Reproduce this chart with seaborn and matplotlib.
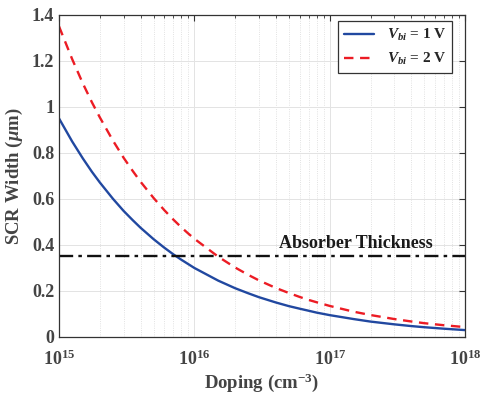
import numpy as np
import pandas as pd
import matplotlib
matplotlib.use("Agg")
import matplotlib.pyplot as plt
import seaborn as sns
from matplotlib.ticker import LogLocator, FuncFormatter, FixedLocator

# Data
doping = [1e15, 1.25e15, 1.5e15, 1.75e15, 2e15, 2.5e15, 3e15, 3.5e15, 4e15, 5e15,
          6e15, 7e15, 8e15, 9e15,
          1e16, 1.5e16, 2e16, 2.5e16, 3e16, 4e16, 5e16, 6e16, 7e16, 8e16,
          1e17, 1.5e17, 2e17, 3e17, 4e17, 5e17, 7e17,
          1e18]
w_vbi1 = [0.95, 0.85, 0.776, 0.718, 0.672, 0.601, 0.548, 0.508, 0.475, 0.425,
          0.388, 0.359, 0.336, 0.317,
          0.300, 0.245, 0.212, 0.190, 0.173, 0.150, 0.134, 0.123, 0.114, 0.106,
          0.095, 0.078, 0.067, 0.055, 0.0475, 0.0425, 0.036,
          0.030]
w_vbi2 = [1.35, 1.208, 1.102, 1.020, 0.955, 0.854, 0.779, 0.722, 0.675, 0.604,
          0.551, 0.510, 0.477, 0.450,
          0.427, 0.349, 0.302, 0.270, 0.246, 0.213, 0.191, 0.174, 0.161, 0.151,
          0.135, 0.110, 0.0955, 0.078, 0.0675, 0.060, 0.051,
          0.043]
absorber = 0.35
absorber_label = "Absorber Thickness"
series_labels = [r"$\mathit{V}_{\mathit{bi}}$ = 1 V", r"$\mathit{V}_{\mathit{bi}}$ = 2 V"]
y_ticks = [0, 0.2, 0.4, 0.6, 0.8, 1.0, 1.2, 1.4]

sns.set_style("white")
plt.rcParams["font.family"] = ["Liberation Serif", "DejaVu Serif"]
plt.rcParams["font.weight"] = "bold"
plt.rcParams["mathtext.fontset"] = "custom"
plt.rcParams["mathtext.rm"] = "Liberation Serif:bold"
plt.rcParams["mathtext.it"] = "Liberation Serif:italic:bold"
plt.rcParams["mathtext.bf"] = "Liberation Serif:bold"
plt.rcParams["mathtext.default"] = "rm"

fig = plt.figure(figsize=(4.8, 3.93), dpi=100)
ax = fig.add_axes([0.123, 0.1425, 0.846, 0.8195])

df = pd.DataFrame({
    "N": doping + doping,
    "W": w_vbi1 + w_vbi2,
    "series": [series_labels[0]] * len(doping) + [series_labels[1]] * len(doping),
})
sns.lineplot(data=df, x="N", y="W", hue="series", style="series", ax=ax,
             palette=["#2148a0", "#ec1c24"],
             dashes=["", (4, 2.8)], lw=1.7)
ax.axhline(absorber, color="#111111", lw=1.7, ls=(0, (6, 2.2, 1.5, 2.2)))
ax.text(1.57e17, absorber + 0.02, absorber_label, ha="center", va="bottom",
        fontsize=13, fontweight="bold", color="#1a1a1a")

ax.set_xscale("log")
ax.set_xlim(1e15, 1e18)
ax.set_ylim(0, 1.4)
ax.yaxis.set_major_locator(FixedLocator(y_ticks))
ax.yaxis.set_major_formatter(FuncFormatter(lambda v, p: f"{v:g}"))
ax.xaxis.set_major_locator(LogLocator(base=10, numticks=10))
ax.xaxis.set_minor_locator(LogLocator(base=10, subs=np.arange(2, 10), numticks=20))

ax.grid(True, which="major", color="#e3e3e3", lw=0.7)
ax.grid(True, which="minor", axis="x", color="#d8d8d8", lw=0.6, ls=":")
ax.set_axisbelow(True)

ax.tick_params(axis="both", which="both", direction="in", top=True, right=True,
               colors="#333333", labelcolor="#444444", labelsize=13)
ax.tick_params(which="major", length=4, width=0.8)
ax.tick_params(which="minor", length=2.5, width=0.6)
for lab in ax.get_xticklabels() + ax.get_yticklabels():
    lab.set_fontweight("bold")
ax.tick_params(axis="x", pad=9)
for s in ax.spines.values():
    s.set_color("#333333")
    s.set_linewidth(0.9)

ax.set_xlabel(r"Doping (cm$^{-3}$)", fontsize=13.5, fontweight="bold", color="#444444", labelpad=2)
ax.set_ylabel(r"SCR Width ($\mathit{\mu}$m)", fontsize=13.5, fontweight="bold", color="#444444", labelpad=5)

leg = ax.legend(loc="upper right", bbox_to_anchor=(0.968, 0.981), fontsize=11,
                frameon=True, fancybox=False, edgecolor="#333333", framealpha=1,
                borderaxespad=0, handlelength=2.0, borderpad=0.4, labelspacing=0.5)
leg.get_frame().set_linewidth(0.9)
for t in leg.get_texts():
    t.set_fontweight("bold")

fig.savefig("out.png", dpi=100)
